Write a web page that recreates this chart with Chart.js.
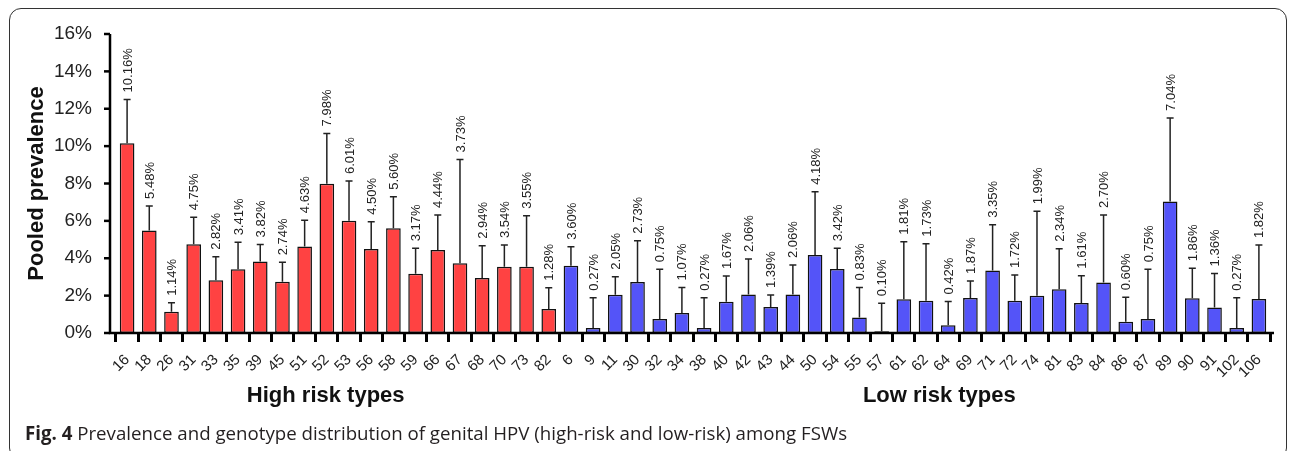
<!DOCTYPE html>
<html>
<head>
<meta charset="utf-8">
<script src="https://cdn.jsdelivr.net/npm/chart.js@4"></script>
<style>
  body { margin: 0; background: #fff; }
  #wrap { position: relative; width: 1290px; height: 451px; overflow: hidden; }
  #frame { position: absolute; left: 9px; top: 8px; width: 1276px; height: 450px; border: 1.5px solid #333; border-radius: 12px; }
  #chart { position: absolute; left: 0; top: 0; }
  #caption { position: absolute; left: 25px; top: 420px; font-family: "Open Sans", sans-serif; font-size: 18.7px; color: #231f20; white-space: nowrap; }
  #caption b { font-weight: 700; }
</style>
</head>
<body>
<div id="wrap">
  <div id="frame"></div>
  <canvas id="chart" width="1290" height="451"></canvas>
  <div id="caption"><b>Fig. 4</b> Prevalence and genotype distribution of genital HPV (high-risk and low-risk) among FSWs</div>
</div>
<script>
const highRiskTypes = ['16', '18', '26', '31', '33', '35', '39', '45', '51', '52', '53', '56', '58', '59', '66', '67', '68', '70', '73', '82'];
const highRiskPrev = [10.16, 5.48, 1.14, 4.75, 2.82, 3.41, 3.82, 2.74, 4.63, 7.98, 6.01, 4.50, 5.60, 3.17, 4.44, 3.73, 2.94, 3.54, 3.55, 1.28];
const highRiskUpper = [12.5, 6.8, 1.62, 6.19, 4.08, 4.85, 4.74, 3.78, 6.04, 10.68, 8.13, 5.95, 7.29, 4.53, 6.31, 9.29, 4.67, 4.71, 6.27, 2.42];

const lowRiskTypes = ['6', '9', '11', '30', '32', '34', '38', '40', '42', '43', '44', '50', '54', '55', '57', '61', '62', '64', '69', '71', '72', '74', '81', '83', '84', '86', '87', '89', '90', '91', '102', '106'];
const lowRiskPrev = [3.60, 0.27, 2.05, 2.73, 0.75, 1.07, 0.27, 1.67, 2.06, 1.39, 2.06, 4.18, 3.42, 0.83, 0.10, 1.81, 1.73, 0.42, 1.87, 3.35, 1.72, 1.99, 2.34, 1.61, 2.70, 0.60, 0.75, 7.04, 1.86, 1.36, 0.27, 1.82];
const lowRiskUpper = [4.62, 1.89, 3.01, 4.94, 3.41, 2.44, 1.89, 3.05, 3.96, 2.03, 3.64, 7.56, 4.53, 2.44, 1.59, 4.88, 4.78, 1.68, 2.78, 5.79, 3.10, 6.51, 4.51, 3.07, 6.31, 1.91, 3.41, 11.51, 3.46, 3.19, 1.89, 4.71];

const yTickValues = [0, 2, 4, 6, 8, 10, 12, 14, 16];
const groupTitles = ['High risk types', 'Low risk types'];

const labels = highRiskTypes.concat(lowRiskTypes);
const prevalence = highRiskPrev.concat(lowRiskPrev);
const upper = highRiskUpper.concat(lowRiskUpper);
const colors = labels.map((_, i) => i < highRiskTypes.length ? '#ff4242' : '#5454f8');

const extras = {
    id: 'extras',
    afterDatasetsDraw(chart) {
        const ctx = chart.ctx;
        const x = chart.scales.x;
        const y = chart.scales.y;
        const axisLeft = chart.chartArea.left - 6;
        const axisRight = chart.chartArea.right + 4;

        // error bars + value labels
        ctx.save();
        ctx.strokeStyle = '#222';
        ctx.lineWidth = 1.5;
        prevalence.forEach((v, i) => {
            const cx = x.getPixelForValue(i);
            const yTop = y.getPixelForValue(upper[i]);
            const yBar = y.getPixelForValue(v);
            ctx.beginPath();
            ctx.moveTo(cx, yBar);
            ctx.lineTo(cx, yTop);
            ctx.moveTo(cx - 3.5, yTop);
            ctx.lineTo(cx + 3.5, yTop);
            ctx.stroke();

            ctx.save();
            ctx.translate(cx + 1, yTop - 7);
            ctx.rotate(-Math.PI / 2);
            ctx.font = '13px "Liberation Sans", Arial, sans-serif';
            ctx.fillStyle = '#222';
            ctx.textAlign = 'left';
            ctx.textBaseline = 'middle';
            ctx.fillText(v.toFixed(2) + '%', 0, 0);
            ctx.restore();
        });
        ctx.restore();

        // axis lines
        ctx.save();
        ctx.strokeStyle = '#000';
        ctx.lineWidth = 2.5;
        ctx.beginPath();
        ctx.moveTo(axisLeft, y.getPixelForValue(16));
        ctx.lineTo(axisLeft, y.getPixelForValue(0));
        ctx.lineTo(axisRight, y.getPixelForValue(0));
        ctx.stroke();
        yTickValues.forEach(t => {
            const py = y.getPixelForValue(t);
            ctx.beginPath();
            ctx.moveTo(axisLeft - 6, py);
            ctx.lineTo(axisLeft, py);
            ctx.stroke();
        });
        ctx.restore();

        // group titles
        ctx.save();
        ctx.font = 'bold 22px "Liberation Sans", Arial, sans-serif';
        ctx.fillStyle = '#111';
        ctx.textAlign = 'center';
        ctx.textBaseline = 'alphabetic';
        ctx.fillText(groupTitles[0], x.getPixelForValue(8.95), 402);
        ctx.fillText(groupTitles[1], x.getPixelForValue(36.6), 402);
        ctx.restore();
    }
};

new Chart(document.getElementById('chart'), {
    type: 'bar',
    data: {
        labels: labels,
        datasets: [{
            data: prevalence,
            backgroundColor: colors,
            borderColor: '#111',
            borderWidth: 1.5,
            borderSkipped: false,
            barPercentage: 0.66,
            categoryPercentage: 1
        }]
    },
    options: {
        responsive: false,
        animation: false,
        layout: { padding: { left: 0, top: 34, right: 20, bottom: 0 } },
        plugins: { legend: { display: false }, tooltip: { enabled: false } },
        scales: {
            x: {
                afterFit: s => { s.height = 118; },
                border: { display: false },
                grid: { drawOnChartArea: false, tickLength: 9, lineWidth: 3, color: '#000' },
                ticks: {
                    autoSkip: false, maxRotation: 45, minRotation: 45, padding: 9,
                    color: '#222', font: { family: '"Liberation Sans", Arial, sans-serif', size: 15 }
                }
            },
            y: {
                min: 0, max: 16,
                afterFit: s => { s.width = 116; },
                border: { display: false },
                grid: { display: false },
                afterBuildTicks: s => { s.ticks = yTickValues.map(v => ({ value: v })); },
                ticks: {
                    padding: 16, color: '#222',
                    font: { family: '"Liberation Sans", Arial, sans-serif', size: 19 },
                    callback: v => v + '%'
                },
                title: {
                    display: true, text: 'Pooled prevalence', color: '#111',
                    padding: { top: 24, bottom: 0 },
                    font: { family: '"Liberation Sans", Arial, sans-serif', size: 22, weight: 'bold' }
                }
            }
        }
    },
    plugins: [extras]
});
</script>
</body>
</html>
